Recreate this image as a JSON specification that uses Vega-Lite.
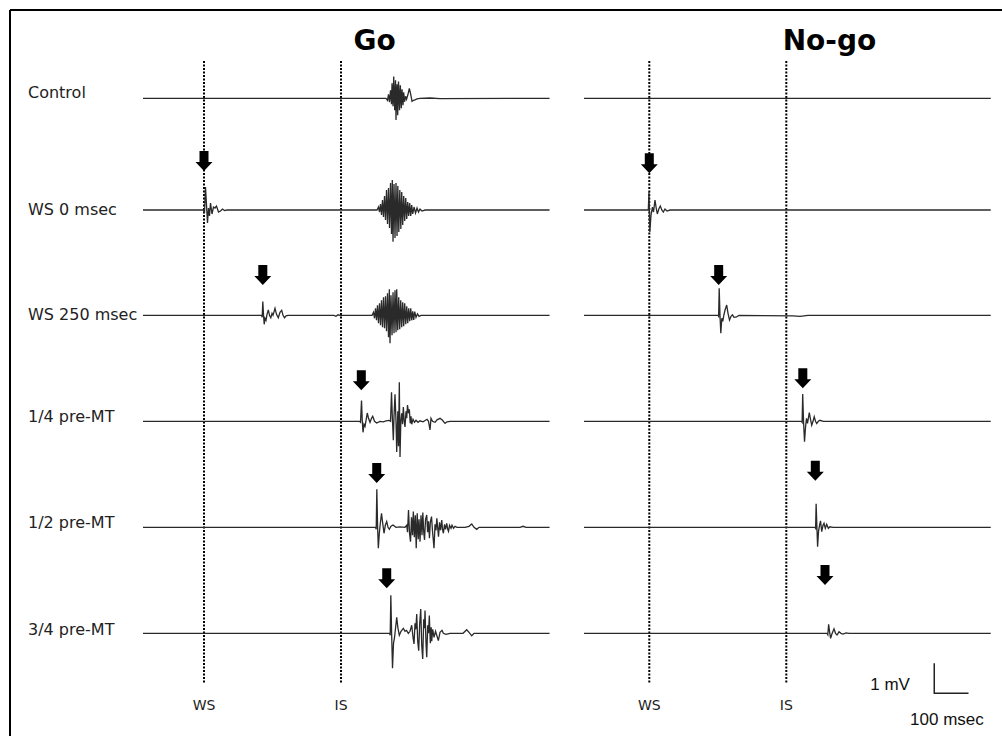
{
  "$schema": "https://vega.github.io/schema/vega-lite/v6.json",
  "width": 992,
  "height": 726,
  "autosize": {"type": "none"},
  "padding": {"left": 10, "top": 10, "right": 0, "bottom": 0},
  "background": "white",
  "config": {"view": {"stroke": null}},
  "datasets": {
    "go_c": [{"t":-178.1,"v":0},{"t":531.4,"v":0},{"t":535.8,"v":-0.067},{"t":538.7,"v":0.133},{"t":541.7,"v":-0.133},{"t":544.6,"v":0.267},{"t":547.5,"v":-0.2},{"t":549.0,"v":0.5},{"t":551.9,"v":-0.267},{"t":553.9,"v":0.723},{"t":556.8,"v":-0.4},{"t":559.2,"v":0.6},{"t":560.6,"v":-0.723},{"t":563.6,"v":0.467},{"t":565.6,"v":-0.567},{"t":567.9,"v":0.557},{"t":570.9,"v":-0.4},{"t":573.2,"v":0.433},{"t":576.1,"v":-0.333},{"t":578.2,"v":0.3},{"t":581.1,"v":-0.233},{"t":583.1,"v":0.2},{"t":585.5,"v":-0.117},{"t":588.4,"v":0.067},{"t":591.3,"v":-0.033},{"t":595.7,"v":0.133},{"t":599.5,"v":0.333},{"t":603.0,"v":0.167},{"t":607.4,"v":-0.1},{"t":611.7,"v":-0.067},{"t":616.1,"v":-0.05},{"t":622.0,"v":-0.017},{"t":630.7,"v":0},{"t":659.9,"v":0.01},{"t":689.1,"v":-0.01},{"t":1008.9,"v":0}],
    "go_ws0": [{"t":-178.1,"v":0},{"t":-1.5,"v":0},{"t":1.5,"v":-0.1},{"t":4.4,"v":0.767},{"t":7.3,"v":0.167},{"t":10.2,"v":-0.433},{"t":13.1,"v":0.067},{"t":16.1,"v":-0.2},{"t":19.0,"v":0.233},{"t":23.4,"v":-0.133},{"t":27.7,"v":0.1},{"t":32.1,"v":0.067},{"t":36.5,"v":0.133},{"t":42.3,"v":-0.067},{"t":48.2,"v":-0.033},{"t":54.0,"v":0.033},{"t":59.9,"v":-0.017},{"t":67.2,"v":0},{"t":505.2,"v":0},{"t":509.5,"v":0.1},{"t":512.5,"v":-0.067},{"t":515.4,"v":0.2},{"t":518.3,"v":-0.167},{"t":521.2,"v":0.333},{"t":524.1,"v":-0.233},{"t":527.1,"v":0.467},{"t":530.0,"v":-0.333},{"t":532.9,"v":0.667},{"t":535.8,"v":-0.467},{"t":538.7,"v":0.733},{"t":541.7,"v":-0.6},{"t":544.6,"v":0.9},{"t":547.5,"v":-0.8},{"t":549.8,"v":1.0},{"t":551.9,"v":-1.057},{"t":554.8,"v":0.867},{"t":557.7,"v":-0.933},{"t":560.6,"v":0.9},{"t":563.6,"v":-0.867},{"t":565.9,"v":0.8},{"t":568.8,"v":-0.733},{"t":571.7,"v":0.667},{"t":574.7,"v":-0.633},{"t":577.3,"v":0.6},{"t":580.2,"v":-0.5},{"t":583.1,"v":0.467},{"t":586.0,"v":-0.367},{"t":589.0,"v":0.4},{"t":591.9,"v":-0.3},{"t":594.8,"v":0.267},{"t":597.7,"v":-0.2},{"t":600.6,"v":0.233},{"t":603.6,"v":-0.2},{"t":606.5,"v":0.167},{"t":609.4,"v":-0.133},{"t":613.2,"v":0.1},{"t":617.6,"v":-0.1},{"t":622.0,"v":0.067},{"t":626.3,"v":-0.067},{"t":630.7,"v":0.033},{"t":636.6,"v":-0.033},{"t":645.3,"v":0},{"t":1008.9,"v":0}],
    "go_ws250": [{"t":-178.1,"v":0},{"t":167.9,"v":0},{"t":169.9,"v":-0.067},{"t":171.7,"v":0.457},{"t":174.0,"v":-0.033},{"t":175.8,"v":-0.3},{"t":178.1,"v":-0.1},{"t":181.0,"v":-0.167},{"t":184.0,"v":0.033},{"t":187.8,"v":0.183},{"t":191.3,"v":0},{"t":195.1,"v":-0.083},{"t":198.6,"v":0.067},{"t":201.5,"v":0},{"t":207.3,"v":0.233},{"t":211.7,"v":0.033},{"t":217.0,"v":-0.083},{"t":221.9,"v":0.1},{"t":226.9,"v":0.167},{"t":230.7,"v":0},{"t":235.1,"v":-0.083},{"t":239.4,"v":-0.017},{"t":245.3,"v":0},{"t":379.6,"v":0},{"t":385.4,"v":-0.033},{"t":391.3,"v":0.017},{"t":397.1,"v":0},{"t":490.6,"v":0},{"t":494.9,"v":0.1},{"t":497.9,"v":-0.1},{"t":500.8,"v":0.233},{"t":503.7,"v":-0.167},{"t":506.6,"v":0.333},{"t":509.5,"v":-0.267},{"t":512.5,"v":0.4},{"t":515.4,"v":-0.333},{"t":518.3,"v":0.5},{"t":521.2,"v":-0.4},{"t":524.1,"v":0.6},{"t":527.1,"v":-0.433},{"t":530.0,"v":0.633},{"t":532.9,"v":-0.533},{"t":535.8,"v":0.733},{"t":538.7,"v":-0.733},{"t":541.1,"v":0.867},{"t":543.1,"v":-0.933},{"t":546.0,"v":0.667},{"t":549.0,"v":-0.667},{"t":551.9,"v":0.767},{"t":554.8,"v":-0.6},{"t":557.7,"v":0.833},{"t":560.6,"v":-0.567},{"t":562.7,"v":0.867},{"t":565.6,"v":-0.5},{"t":568.5,"v":0.6},{"t":571.4,"v":-0.467},{"t":574.4,"v":0.5},{"t":577.3,"v":-0.4},{"t":580.2,"v":0.433},{"t":583.1,"v":-0.367},{"t":586.0,"v":0.4},{"t":589.0,"v":-0.3},{"t":591.9,"v":0.3},{"t":594.8,"v":-0.267},{"t":597.7,"v":0.233},{"t":600.6,"v":-0.2},{"t":603.6,"v":0.233},{"t":606.5,"v":-0.167},{"t":609.4,"v":0.133},{"t":612.3,"v":-0.15},{"t":615.2,"v":0.123},{"t":619.0,"v":-0.067},{"t":623.4,"v":0.05},{"t":627.8,"v":-0.033},{"t":633.6,"v":0},{"t":1008.9,"v":0}],
    "go_q1": [{"t":-178.1,"v":0},{"t":454.1,"v":0},{"t":457.0,"v":-0.033},{"t":459.9,"v":0.69},{"t":461.9,"v":0.067},{"t":464.3,"v":-0.367},{"t":467.2,"v":-0.1},{"t":470.1,"v":-0.167},{"t":473.6,"v":0.067},{"t":476.8,"v":0.277},{"t":480.3,"v":0.1},{"t":484.7,"v":-0.033},{"t":489.1,"v":0.1},{"t":492.6,"v":0.167},{"t":497.9,"v":0},{"t":504.3,"v":-0.057},{"t":513.9,"v":0},{"t":523.6,"v":-0.017},{"t":531.4,"v":0.017},{"t":540.2,"v":0.033},{"t":544.6,"v":0},{"t":547.5,"v":0.967},{"t":549.8,"v":0.167},{"t":552.8,"v":-0.633},{"t":554.8,"v":0.167},{"t":557.7,"v":0.9},{"t":560.6,"v":0},{"t":562.7,"v":-1.023},{"t":565.9,"v":0.333},{"t":567.9,"v":-0.833},{"t":570.3,"v":1.3},{"t":572.3,"v":-1.19},{"t":574.7,"v":0},{"t":577.3,"v":0.267},{"t":579.6,"v":-0.1},{"t":582.0,"v":0.477},{"t":584.6,"v":0},{"t":586.9,"v":-0.19},{"t":589.8,"v":0.333},{"t":591.9,"v":0.1},{"t":594.2,"v":0.543},{"t":597.1,"v":0.267},{"t":599.5,"v":0.4},{"t":602.1,"v":-0.067},{"t":604.4,"v":0.167},{"t":606.5,"v":-0.1},{"t":610.3,"v":0.067},{"t":614.7,"v":-0.033},{"t":619.0,"v":0.033},{"t":624.9,"v":-0.033},{"t":630.7,"v":0.017},{"t":639.5,"v":-0.017},{"t":651.2,"v":0.067},{"t":655.5,"v":0},{"t":659.9,"v":-0.29},{"t":662.8,"v":0.1},{"t":667.2,"v":0},{"t":674.5,"v":-0.033},{"t":680.4,"v":0.05},{"t":689.1,"v":0.1},{"t":696.4,"v":0.033},{"t":703.7,"v":-0.067},{"t":709.6,"v":-0.017},{"t":718.3,"v":0},{"t":1008.9,"v":0}],
    "go_q2": [{"t":-178.1,"v":0},{"t":500.8,"v":0},{"t":502.8,"v":-0.067},{"t":504.6,"v":1.267},{"t":506.9,"v":0},{"t":509.0,"v":-0.7},{"t":511.9,"v":-0.2},{"t":514.8,"v":0.133},{"t":518.3,"v":0.467},{"t":521.8,"v":0.133},{"t":525.6,"v":-0.2},{"t":529.4,"v":0.067},{"t":533.5,"v":0.19},{"t":537.3,"v":0},{"t":541.1,"v":-0.067},{"t":546.0,"v":0.033},{"t":551.9,"v":0.077},{"t":560.6,"v":0},{"t":572.3,"v":0.017},{"t":586.9,"v":0},{"t":591.9,"v":0.067},{"t":594.2,"v":-0.167},{"t":597.1,"v":0.577},{"t":600.1,"v":-0.2},{"t":603.0,"v":-0.477},{"t":605.9,"v":0.333},{"t":608.8,"v":-0.267},{"t":611.2,"v":0.523},{"t":614.1,"v":-0.333},{"t":617.0,"v":0.4},{"t":619.6,"v":-0.7},{"t":622.5,"v":0.467},{"t":625.5,"v":-0.4},{"t":627.8,"v":0.267},{"t":630.7,"v":-0.477},{"t":633.6,"v":0.4},{"t":636.6,"v":-0.267},{"t":638.9,"v":0.49},{"t":641.8,"v":-0.2},{"t":643.9,"v":-0.423},{"t":646.8,"v":0.267},{"t":650.3,"v":0.41},{"t":652.9,"v":-0.167},{"t":655.5,"v":0.2},{"t":658.2,"v":-0.367},{"t":660.8,"v":0.167},{"t":664.3,"v":0.357},{"t":667.2,"v":-0.133},{"t":671.6,"v":-0.7},{"t":674.5,"v":0.1},{"t":677.4,"v":-0.1},{"t":679.8,"v":0.3},{"t":682.7,"v":-0.067},{"t":684.7,"v":-0.31},{"t":687.7,"v":0.167},{"t":690.6,"v":-0.1},{"t":694.1,"v":0.243},{"t":696.4,"v":-0.067},{"t":699.0,"v":-0.2},{"t":702.3,"v":0.1},{"t":705.2,"v":-0.067},{"t":708.7,"v":0.133},{"t":711.6,"v":-0.067},{"t":713.9,"v":-0.133},{"t":716.9,"v":0.067},{"t":721.2,"v":-0.033},{"t":724.2,"v":0.067},{"t":728.5,"v":-0.033},{"t":732.9,"v":0.033},{"t":738.8,"v":0},{"t":762.1,"v":0},{"t":773.8,"v":0.033},{"t":781.7,"v":0.11},{"t":788.4,"v":0},{"t":796.3,"v":-0.067},{"t":803.0,"v":0},{"t":922.7,"v":0},{"t":931.5,"v":0.033},{"t":940.2,"v":0},{"t":1008.9,"v":0}],
    "go_q3": [{"t":-178.1,"v":0},{"t":541.7,"v":0},{"t":543.7,"v":-0.067},{"t":545.5,"v":1.267},{"t":547.8,"v":0},{"t":550.4,"v":-1.167},{"t":553.3,"v":-0.333},{"t":556.3,"v":-0.133},{"t":559.2,"v":0.167},{"t":562.7,"v":0.533},{"t":565.9,"v":0.2},{"t":570.3,"v":-0.067},{"t":575.2,"v":0.067},{"t":582.0,"v":0.167},{"t":586.9,"v":0.067},{"t":591.3,"v":0.1},{"t":596.6,"v":0},{"t":601.5,"v":0.067},{"t":606.5,"v":0.267},{"t":610.3,"v":-0.133},{"t":613.2,"v":-0.357},{"t":616.1,"v":0.333},{"t":618.5,"v":0.133},{"t":621.1,"v":0.643},{"t":624.0,"v":-0.267},{"t":626.9,"v":-0.577},{"t":629.8,"v":0.333},{"t":632.8,"v":0.81},{"t":635.7,"v":-0.4},{"t":638.6,"v":-0.857},{"t":641.5,"v":0.467},{"t":643.9,"v":0.167},{"t":645.3,"v":0.757},{"t":648.2,"v":-0.333},{"t":650.3,"v":-0.8},{"t":653.2,"v":0.267},{"t":655.5,"v":0},{"t":657.9,"v":0.59},{"t":660.8,"v":-0.333},{"t":663.4,"v":0.2},{"t":664.9,"v":-0.267},{"t":667.8,"v":0.133},{"t":671.6,"v":-0.133},{"t":676.0,"v":0.067},{"t":680.4,"v":-0.1},{"t":684.2,"v":-0.243},{"t":689.1,"v":0.033},{"t":695.0,"v":0.1},{"t":698.8,"v":0},{"t":706.6,"v":-0.033},{"t":718.3,"v":0},{"t":756.3,"v":0},{"t":767.1,"v":0.117},{"t":773.8,"v":0.033},{"t":781.7,"v":-0.083},{"t":788.4,"v":0},{"t":1008.9,"v":0}],
    "ng_c": [{"t":-190.7,"v":0},{"t":996.9,"v":0}],
    "ng_ws0": [{"t":-190.7,"v":0},{"t":-2.9,"v":0},{"t":-0.9,"v":0.6},{"t":1.5,"v":-0.733},{"t":5.0,"v":-0.167},{"t":9.3,"v":0.1},{"t":12.3,"v":-0.067},{"t":16.6,"v":0.333},{"t":20.1,"v":0.067},{"t":23.4,"v":-0.133},{"t":27.7,"v":0.033},{"t":32.1,"v":0.133},{"t":36.5,"v":0},{"t":40.9,"v":-0.067},{"t":45.8,"v":0.033},{"t":51.7,"v":-0.033},{"t":60.4,"v":0},{"t":996.9,"v":0}],
    "ng_ws250": [{"t":-190.7,"v":0},{"t":200.6,"v":0},{"t":202.4,"v":-0.033},{"t":204.1,"v":0.9},{"t":206.4,"v":0},{"t":208.8,"v":-0.6},{"t":211.7,"v":-0.1},{"t":214.6,"v":-0.2},{"t":217.5,"v":0},{"t":221.0,"v":0.167},{"t":226.0,"v":0.343},{"t":229.8,"v":0.067},{"t":234.2,"v":-0.157},{"t":238.6,"v":-0.033},{"t":242.9,"v":0.017},{"t":247.3,"v":-0.067},{"t":255.2,"v":-0.05},{"t":261.9,"v":0},{"t":419.6,"v":-0.017},{"t":440.0,"v":-0.033},{"t":463.4,"v":0},{"t":996.9,"v":0}],
    "ng_q1": [{"t":-190.7,"v":0},{"t":444.4,"v":0},{"t":446.2,"v":-0.033},{"t":447.9,"v":0.91},{"t":450.3,"v":0},{"t":453.2,"v":-0.683},{"t":456.1,"v":-0.2},{"t":459.0,"v":0.1},{"t":461.9,"v":-0.067},{"t":467.2,"v":0.29},{"t":470.7,"v":0.067},{"t":474.2,"v":-0.133},{"t":478.0,"v":0},{"t":481.5,"v":0.15},{"t":485.3,"v":0},{"t":488.8,"v":-0.077},{"t":493.5,"v":0},{"t":498.4,"v":0.033},{"t":508.1,"v":0},{"t":996.9,"v":0}],
    "ng_q2": [{"t":-190.7,"v":0},{"t":483.8,"v":0},{"t":485.6,"v":-0.033},{"t":487.1,"v":0.783},{"t":489.4,"v":0},{"t":491.4,"v":-0.65},{"t":494.1,"v":-0.133},{"t":497.0,"v":0.067},{"t":499.9,"v":0.217},{"t":503.4,"v":-0.143},{"t":507.2,"v":0.067},{"t":510.1,"v":0.133},{"t":513.9,"v":-0.033},{"t":518.0,"v":0.1},{"t":522.7,"v":-0.033},{"t":527.6,"v":0.017},{"t":536.4,"v":0},{"t":996.9,"v":0}],
    "ng_q3": [{"t":-190.7,"v":0},{"t":518.9,"v":0},{"t":521.2,"v":-0.05},{"t":523.6,"v":0.3},{"t":526.2,"v":0.067},{"t":529.4,"v":-0.167},{"t":532.9,"v":-0.033},{"t":536.4,"v":0.067},{"t":539.3,"v":0.15},{"t":543.7,"v":0},{"t":548.1,"v":-0.057},{"t":553.9,"v":0.05},{"t":559.8,"v":0},{"t":565.6,"v":-0.023},{"t":574.4,"v":0.017},{"t":583.1,"v":0},{"t":996.9,"v":0}],
    "markers": [{"t":0,"v":1.243,"v2":-19.49},{"t":400,"v":1.243,"v2":-19.49}],
    "markerLabels": [{"t":0,"v":-20.26,"label":"WS"},{"t":400,"v":-20.26,"label":"IS"}]
  },
  "layer": [
    {"data":{"values":[{"v":2.943}]},"mark":{"type":"rule","color":"black","strokeWidth":2},"encoding":{"y":{"field":"v","type":"quantitative","scale":{"domain":[-21.257,2.943],"nice":false,"zero":false},"axis":null}}},
    {"data":{"values":[{"t":-566.42}]},"mark":{"type":"rule","color":"black","strokeWidth":2},"encoding":{"x":{"field":"t","type":"quantitative","scale":{"domain":[-566.42,2329.93],"nice":false,"zero":false},"axis":null}}},
    {
      "encoding": {
        "x": {"field":"t","type":"quantitative","scale":{"domain":[-566.42,2329.93],"nice":false,"zero":false},"axis":null},
        "y": {"field":"v","type":"quantitative","scale":{"domain":[-21.257,2.943],"nice":false,"zero":false},"axis":null}
      },
      "layer": [
        {"data":{"name":"markers"},"mark":{"type":"rule","color":"black","strokeWidth":2,"strokeDash":[2,1.5]},"encoding":{"y2":{"field":"v2"}}},
        {"data":{"name":"markerLabels"},"mark":{"type":"text","font":"DejaVu Sans","fontSize":14,"color":"#222","align":"center","baseline":"middle"},"encoding":{"text":{"field":"label"}}},
        {"data":{"values":[{"t":498,"v":1.61,"label":"Go"}]},"mark":{"type":"text","font":"DejaVu Sans","fontWeight":"bold","fontSize":28,"color":"black","align":"center","baseline":"alphabetic"},"encoding":{"text":{"field":"label"}}},
        {"data":{"values":[{"t":-513.9,"v":0.177,"label":"Control"}]},"mark":{"type":"text","font":"DejaVu Sans","fontSize":16,"color":"#222","align":"left","baseline":"middle"},"encoding":{"text":{"field":"label"}}},
        {"data":{"name":"go_c"},"mark":{"type":"line","color":"#2a2a2a","strokeWidth":1.3}}
      ]
    },
    {
      "encoding": {
        "x": {"field":"t","type":"quantitative","scale":{"domain":[-566.42,2329.93],"nice":false,"zero":false},"axis":null},
        "y": {"field":"v","type":"quantitative","scale":{"domain":[-17.533,6.667],"nice":false,"zero":false},"axis":null}
      },
      "layer": [
        {"data":{"values":[{"t":-513.9,"v":0,"label":"WS 0 msec"}]},"mark":{"type":"text","font":"DejaVu Sans","fontSize":16,"color":"#222","align":"left","baseline":"middle"},"encoding":{"text":{"field":"label"}}},
        {"data":{"values":[{"t":0,"v":1.633}]},"mark":{"type":"point","shape":"M-0.45,-1L0.45,-1L0.45,0.1L0.85,0.1L0,1L-0.85,0.1L-0.45,0.1Z","filled":true,"size":400,"color":"black","opacity":1,"strokeWidth":0}},
        {"data":{"name":"go_ws0"},"mark":{"type":"line","color":"#2a2a2a","strokeWidth":1.3}}
      ]
    },
    {
      "encoding": {
        "x": {"field":"t","type":"quantitative","scale":{"domain":[-566.42,2329.93],"nice":false,"zero":false},"axis":null},
        "y": {"field":"v","type":"quantitative","scale":{"domain":[-14.023,10.177],"nice":false,"zero":false},"axis":null}
      },
      "layer": [
        {"data":{"values":[{"t":-513.9,"v":0,"label":"WS 250 msec"}]},"mark":{"type":"text","font":"DejaVu Sans","fontSize":16,"color":"#222","align":"left","baseline":"middle"},"encoding":{"text":{"field":"label"}}},
        {"data":{"values":[{"t":171.7,"v":1.343}]},"mark":{"type":"point","shape":"M-0.45,-1L0.45,-1L0.45,0.1L0.85,0.1L0,1L-0.85,0.1L-0.45,0.1Z","filled":true,"size":400,"color":"black","opacity":1,"strokeWidth":0}},
        {"data":{"name":"go_ws250"},"mark":{"type":"line","color":"#2a2a2a","strokeWidth":1.3}}
      ]
    },
    {
      "encoding": {
        "x": {"field":"t","type":"quantitative","scale":{"domain":[-566.42,2329.93],"nice":false,"zero":false},"axis":null},
        "y": {"field":"v","type":"quantitative","scale":{"domain":[-10.49,13.71],"nice":false,"zero":false},"axis":null}
      },
      "layer": [
        {"data":{"values":[{"t":-513.9,"v":0.143,"label":"1/4 pre-MT"}]},"mark":{"type":"text","font":"DejaVu Sans","fontSize":16,"color":"#222","align":"left","baseline":"middle"},"encoding":{"text":{"field":"label"}}},
        {"data":{"values":[{"t":459.3,"v":1.367}]},"mark":{"type":"point","shape":"M-0.45,-1L0.45,-1L0.45,0.1L0.85,0.1L0,1L-0.85,0.1L-0.45,0.1Z","filled":true,"size":400,"color":"black","opacity":1,"strokeWidth":0}},
        {"data":{"name":"go_q1"},"mark":{"type":"line","color":"#2a2a2a","strokeWidth":1.3}}
      ]
    },
    {
      "encoding": {
        "x": {"field":"t","type":"quantitative","scale":{"domain":[-566.42,2329.93],"nice":false,"zero":false},"axis":null},
        "y": {"field":"v","type":"quantitative","scale":{"domain":[-6.957,17.243],"nice":false,"zero":false},"axis":null}
      },
      "layer": [
        {"data":{"values":[{"t":-513.9,"v":0.143,"label":"1/2 pre-MT"}]},"mark":{"type":"text","font":"DejaVu Sans","fontSize":16,"color":"#222","align":"left","baseline":"middle"},"encoding":{"text":{"field":"label"}}},
        {"data":{"values":[{"t":504.3,"v":1.81}]},"mark":{"type":"point","shape":"M-0.45,-1L0.45,-1L0.45,0.1L0.85,0.1L0,1L-0.85,0.1L-0.45,0.1Z","filled":true,"size":400,"color":"black","opacity":1,"strokeWidth":0}},
        {"data":{"name":"go_q2"},"mark":{"type":"line","color":"#2a2a2a","strokeWidth":1.3}}
      ]
    },
    {
      "encoding": {
        "x": {"field":"t","type":"quantitative","scale":{"domain":[-566.42,2329.93],"nice":false,"zero":false},"axis":null},
        "y": {"field":"v","type":"quantitative","scale":{"domain":[-3.423,20.777],"nice":false,"zero":false},"axis":null}
      },
      "layer": [
        {"data":{"values":[{"t":-513.9,"v":0.11,"label":"3/4 pre-MT"}]},"mark":{"type":"text","font":"DejaVu Sans","fontSize":16,"color":"#222","align":"left","baseline":"middle"},"encoding":{"text":{"field":"label"}}},
        {"data":{"values":[{"t":533.5,"v":1.833}]},"mark":{"type":"point","shape":"M-0.45,-1L0.45,-1L0.45,0.1L0.85,0.1L0,1L-0.85,0.1L-0.45,0.1Z","filled":true,"size":400,"color":"black","opacity":1,"strokeWidth":0}},
        {"data":{"name":"go_q3"},"mark":{"type":"line","color":"#2a2a2a","strokeWidth":1.3}}
      ]
    },
    {
      "encoding": {
        "x": {"field":"t","type":"quantitative","scale":{"domain":[-1866.57,1029.78],"nice":false,"zero":false},"axis":null},
        "y": {"field":"v","type":"quantitative","scale":{"domain":[-21.257,2.943],"nice":false,"zero":false},"axis":null}
      },
      "layer": [
        {"data":{"name":"markers"},"mark":{"type":"rule","color":"black","strokeWidth":2,"strokeDash":[2,1.5]},"encoding":{"y2":{"field":"v2"}}},
        {"data":{"name":"markerLabels"},"mark":{"type":"text","font":"DejaVu Sans","fontSize":14,"color":"#222","align":"center","baseline":"middle"},"encoding":{"text":{"field":"label"}}},
        {"data":{"values":[{"t":526,"v":1.61,"label":"No-go"}]},"mark":{"type":"text","font":"DejaVu Sans","fontWeight":"bold","fontSize":28,"color":"black","align":"center","baseline":"alphabetic"},"encoding":{"text":{"field":"label"}}},
        {"data":{"name":"ng_c"},"mark":{"type":"line","color":"#2a2a2a","strokeWidth":1.3}}
      ]
    },
    {
      "encoding": {
        "x": {"field":"t","type":"quantitative","scale":{"domain":[-1866.57,1029.78],"nice":false,"zero":false},"axis":null},
        "y": {"field":"v","type":"quantitative","scale":{"domain":[-17.533,6.667],"nice":false,"zero":false},"axis":null}
      },
      "layer": [
        {"data":{"values":[{"t":0,"v":1.557}]},"mark":{"type":"point","shape":"M-0.45,-1L0.45,-1L0.45,0.1L0.85,0.1L0,1L-0.85,0.1L-0.45,0.1Z","filled":true,"size":400,"color":"black","opacity":1,"strokeWidth":0}},
        {"data":{"name":"ng_ws0"},"mark":{"type":"line","color":"#2a2a2a","strokeWidth":1.3}}
      ]
    },
    {
      "encoding": {
        "x": {"field":"t","type":"quantitative","scale":{"domain":[-1866.57,1029.78],"nice":false,"zero":false},"axis":null},
        "y": {"field":"v","type":"quantitative","scale":{"domain":[-14.023,10.177],"nice":false,"zero":false},"axis":null}
      },
      "layer": [
        {"data":{"values":[{"t":202.6,"v":1.343}]},"mark":{"type":"point","shape":"M-0.45,-1L0.45,-1L0.45,0.1L0.85,0.1L0,1L-0.85,0.1L-0.45,0.1Z","filled":true,"size":400,"color":"black","opacity":1,"strokeWidth":0}},
        {"data":{"name":"ng_ws250"},"mark":{"type":"line","color":"#2a2a2a","strokeWidth":1.3}}
      ]
    },
    {
      "encoding": {
        "x": {"field":"t","type":"quantitative","scale":{"domain":[-1866.57,1029.78],"nice":false,"zero":false},"axis":null},
        "y": {"field":"v","type":"quantitative","scale":{"domain":[-10.49,13.71],"nice":false,"zero":false},"axis":null}
      },
      "layer": [
        {"data":{"values":[{"t":448.2,"v":1.433}]},"mark":{"type":"point","shape":"M-0.45,-1L0.45,-1L0.45,0.1L0.85,0.1L0,1L-0.85,0.1L-0.45,0.1Z","filled":true,"size":400,"color":"black","opacity":1,"strokeWidth":0}},
        {"data":{"name":"ng_q1"},"mark":{"type":"line","color":"#2a2a2a","strokeWidth":1.3}}
      ]
    },
    {
      "encoding": {
        "x": {"field":"t","type":"quantitative","scale":{"domain":[-1866.57,1029.78],"nice":false,"zero":false},"axis":null},
        "y": {"field":"v","type":"quantitative","scale":{"domain":[-6.957,17.243],"nice":false,"zero":false},"axis":null}
      },
      "layer": [
        {"data":{"values":[{"t":484.7,"v":1.887}]},"mark":{"type":"point","shape":"M-0.45,-1L0.45,-1L0.45,0.1L0.85,0.1L0,1L-0.85,0.1L-0.45,0.1Z","filled":true,"size":400,"color":"black","opacity":1,"strokeWidth":0}},
        {"data":{"name":"ng_q2"},"mark":{"type":"line","color":"#2a2a2a","strokeWidth":1.3}}
      ]
    },
    {
      "encoding": {
        "x": {"field":"t","type":"quantitative","scale":{"domain":[-1866.57,1029.78],"nice":false,"zero":false},"axis":null},
        "y": {"field":"v","type":"quantitative","scale":{"domain":[-3.423,20.777],"nice":false,"zero":false},"axis":null}
      },
      "layer": [
        {"data":{"values":[{"t":513,"v":1.943}]},"mark":{"type":"point","shape":"M-0.45,-1L0.45,-1L0.45,0.1L0.85,0.1L0,1L-0.85,0.1L-0.45,0.1Z","filled":true,"size":400,"color":"black","opacity":1,"strokeWidth":0}},
        {"data":{"name":"ng_q3"},"mark":{"type":"line","color":"#2a2a2a","strokeWidth":1.3}},
        {"data":{"values":[{"t":832,"v":-1.0,"o":1},{"t":832,"v":-2.0,"o":2},{"t":932,"v":-2.0,"o":3}]},"mark":{"type":"line","color":"#222","strokeWidth":1.5},"encoding":{"order":{"field":"o","type":"quantitative"}}},
        {"data":{"values":[{"t":761,"v":-1.72,"label":"1 mV"}]},"mark":{"type":"text","font":"Liberation Sans","fontSize":17,"color":"#111","align":"right","baseline":"middle"},"encoding":{"text":{"field":"label"}}},
        {"data":{"values":[{"t":869,"v":-2.89,"label":"100 msec"}]},"mark":{"type":"text","font":"Liberation Sans","fontSize":17,"color":"#111","align":"center","baseline":"middle"},"encoding":{"text":{"field":"label"}}}
      ]
    }
  ],
  "resolve": {"scale": {"x": "independent", "y": "independent"}}
}
